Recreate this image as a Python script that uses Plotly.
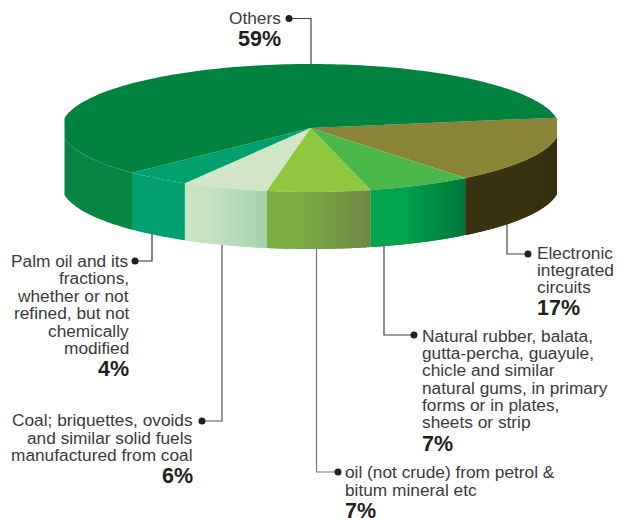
import numpy as np
import plotly.graph_objects as go

categories = ["Electronic integrated circuits", "Natural rubber etc", "oil (not crude)", "Coal etc", "Palm oil", "Others"]
# shares (the printed labels are rounded)
values = [16.9, 6.8, 6.7, 5.6, 4.3, 59.7]
top_colors = ["#8a8436", "#4cb84b", "#8fc73f", "#d0e6c6", "#00a06c", "#00833f"]
# side colours, as seen from the left to the right of each slice
side_left = ["#39330f", "#00a44e", "#7cae46", "#c8e2c2", "#009f6e", "#078643"]
side_right = ["#332e10", "#00763c", "#6e8743", "#a3d2ae", "#009f6e", "#078643"]

label_lines = [
    (["Others"], "59%", "right", 281, [18], 39),
    (["Palm oil and its", "fractions,", "whether or not", "refined, but not", "chemically", "modified"], "4%", "right", 129,
     [261, 278, 296, 313, 331, 348], 369),
    (["Coal; briquettes, ovoids", "and similar solid fuels", "manufactured from coal"], "6%", "right", 193, [420, 438, 455], 476),
    (["oil (not crude) from petrol &", "bitum mineral etc"], "7%", "left", 345, [472, 490], 510.5),
    (["Natural rubber, balata,", "gutta-percha, guayule,", "chicle and similar", "natural gums, in primary", "forms or in plates,", "sheets or strip"], "7%", "left", 422,
     [336, 353, 370, 388, 405, 422], 444),
    (["Electronic", "integrated", "circuits"], "17%", "left", 537, [253, 270, 287], 308),
]
leaders = [
    ((289, 18.5), (311, 18.5), (311, 64), "#444444"),
    ((135, 261), (152, 261), (152, 234), "#333333"),
    ((202, 421), (222, 421), (222, 245), "#555555"),
    ((338, 472), (316.5, 472), (316.5, 248), "#777777"),
    ((414, 335), (384, 335), (384, 246), "#444444"),
    ((528, 254), (507, 254), (507, 224), "#444444"),
]

CX, CY, RX, RY, DEPTH = 310.5, 128, 249, 64, 57
XMIN, XMAX = 64.5, 557
START = -9.3


def hex2rgb(h):
    return np.array([int(h[i:i + 2], 16) for i in (1, 3, 5)], float)


def mix(a, b, t):
    c = hex2rgb(a) * (1 - t) + hex2rgb(b) * t
    return "rgb(%d,%d,%d)" % tuple(c.round())


def arc(a, b, dy=0, n=60):
    th = np.radians(np.linspace(a, b, n))
    return np.clip(CX + RX * np.cos(th), XMIN, XMAX), CY + dy + RY * np.sin(th)


def poly(x, y, color):
    return go.Scatter(x=list(x) + [x[0]], y=list(y) + [y[0]], mode="none", fill="toself", fillcolor=color,
                      hoverinfo="skip", showlegend=False)


fig = go.Figure()
spans = np.array(values) / sum(values) * 360
edges = START + np.concatenate([[0], np.cumsum(spans)])

# side walls: painted right to left, each strip overlapped by the next one
for i in range(len(values)):
    a, b = max(edges[i], 0), min(edges[i + 1], 180)
    if a >= b:
        continue
    steps = 1 if side_left[i] == side_right[i] else 24
    ts = np.linspace(a, b, steps + 1)
    for k in range(steps):
        stop = ts[min(k + 2, steps)]
        x1, y1 = arc(ts[k], stop, 0, 30)
        x2, y2 = arc(stop, ts[k], DEPTH, 30)
        t = (k + 0.5) / steps
        fig.add_trace(poly(np.r_[x1, x2], np.r_[y1, y2], mix(side_right[i], side_left[i], min(t / 0.7, 1))))

for i in range(len(values)):
    x, y = arc(edges[i], edges[i + 1], 0, 160)
    fig.add_trace(poly(np.r_[CX, x], np.r_[CY, y], top_colors[i]))

shapes = []
dx, dy = [], []
for d, e, t, col in leaders:
    shapes.append(dict(type="path", path=f"M{d[0]},{d[1]} L{e[0]},{e[1]} L{t[0]},{t[1]}", xref="x", yref="y",
                       line=dict(color=col, width=1.2), layer="below"))
    dx.append(d[0]); dy.append(d[1])
fig.add_trace(go.Scatter(x=dx, y=dy, mode="markers", marker=dict(color="#231f20", size=7), hoverinfo="skip", showlegend=False))

anns = []
for lines, pct, side, x, ys, py in label_lines:
    shift = 2 if side == "right" else -2
    for line, y in zip(lines, ys):
        anns.append(dict(x=x, y=y, text=line, xref="x", yref="y", showarrow=False, xanchor=side, yanchor="middle",
                         xshift=shift, font=dict(family="Liberation Sans", size=17.3, color="#3a3a3c")))
    anns.append(dict(x=x, y=py, text=f"<b>{pct}</b>", xref="x", yref="y", showarrow=False, xanchor=side, yanchor="middle",
                     xshift=shift, font=dict(family="Liberation Sans", size=21.5, color="#231f20")))

fig.update_layout(width=617, height=518, margin=dict(l=0, r=0, t=0, b=0), paper_bgcolor="white", plot_bgcolor="white",
                  showlegend=False, shapes=shapes, annotations=anns,
                  xaxis=dict(range=[0, 617], visible=False, fixedrange=True),
                  yaxis=dict(range=[518, 0], visible=False, fixedrange=True))
fig.write_html("out.html", config=dict(displayModeBar=False),
               post_script="document.body.style.margin='0';document.body.style.overflow='hidden';")
